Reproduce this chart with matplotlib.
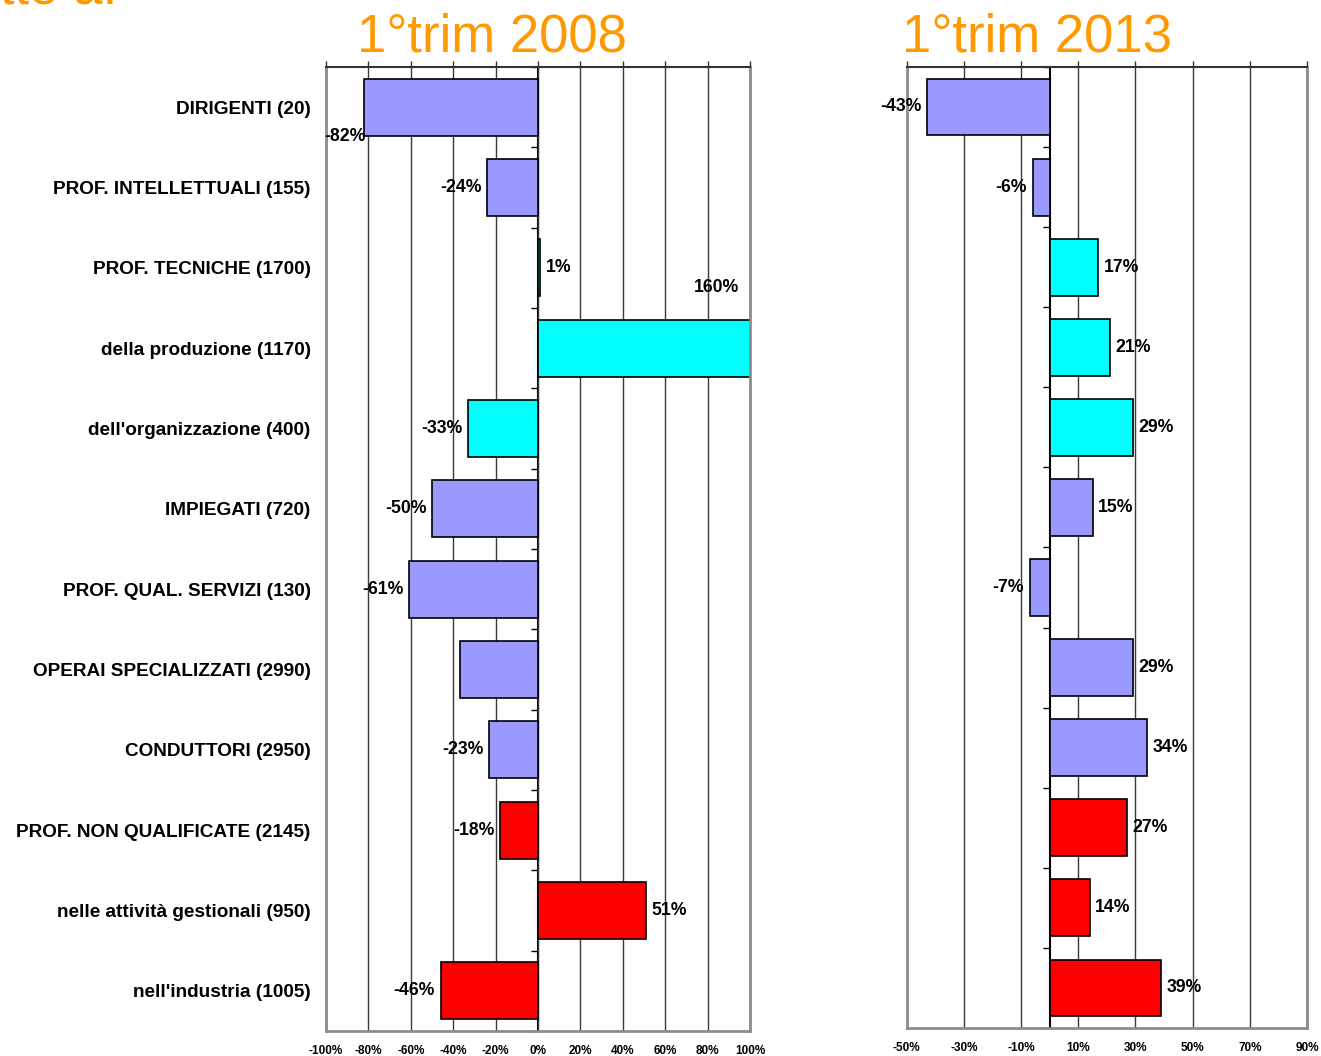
import numpy as np
import matplotlib
matplotlib.use("Agg")
import matplotlib.pyplot as plt

# -------------------- data --------------------
categories = [
    "DIRIGENTI (20)",
    "PROF. INTELLETTUALI (155)",
    "PROF. TECNICHE (1700)",
    "della produzione (1170)",
    "dell'organizzazione (400)",
    "IMPIEGATI (720)",
    "PROF. QUAL. SERVIZI (130)",
    "OPERAI SPECIALIZZATI (2990)",
    "CONDUTTORI (2950)",
    "PROF. NON QUALIFICATE (2145)",
    "nelle attività gestionali (950)",
    "nell'industria (1005)",
]
var_2008 = [-82, -24, 1, 160, -33, -50, -61, -37, -23, -18, 51, -46]
var_2013 = [-43, -6, 17, 21, 29, 15, -7, 29, 34, 27, 14, 39]
groups = ["base", "base", "tech", "tech", "tech", "base", "base",
          "base", "base", "low", "low", "low"]

ticks_2008 = [-100, -80, -60, -40, -20, 0, 20, 40, 60, 80, 100]
ticks_2013 = [-50, -30, -10, 10, 30, 50, 70, 90]

# -------------------- style --------------------
plt.rcParams["font.family"] = ["Liberation Sans", "DejaVu Sans"]
group_colors = {"base": "#9999FF", "tech": "#00FFFF", "low": "#FF0000"}
colors = [group_colors[g] for g in groups]
ORANGE = "#FF9900"
FRAME = "#8c8c8c"
GRID = "#3a3a3a"

fig = plt.figure(figsize=(13.21, 10.56), dpi=100)
ax1 = fig.add_axes([0.2468, 0.0237, 0.3210, 0.9129])
ax2 = fig.add_axes([0.6864, 0.0265, 0.3030, 0.9101])

y = np.arange(len(categories))


def setup(ax, xlim, xticks):
    ax.set_xlim(*xlim)
    ax.set_ylim(len(categories) - 0.5, -0.5)
    ax.set_xticks(xticks)
    ax.set_xticklabels([f"{t}%" for t in xticks], fontsize=8.5, fontweight="bold")
    ax.tick_params(axis="x", top=True, bottom=False, labeltop=False,
                   labelbottom=True, direction="out", length=4, width=1,
                   color="#333333", pad=6)
    ax.grid(axis="x", color=GRID, linewidth=1)
    ax.set_axisbelow(True)
    for side in ["left", "right", "bottom"]:
        ax.spines[side].set_color(FRAME)
        ax.spines[side].set_linewidth(2)
    ax.spines["top"].set_color("#333333")
    ax.spines["top"].set_linewidth(1.5)
    # category axis on the zero line
    zero = (0 - xlim[0]) / (xlim[1] - xlim[0])
    sec = ax.secondary_yaxis(zero)
    sec.set_alignment("left")
    sec.set_yticks(np.arange(-0.5, len(categories), 1))
    sec.tick_params(axis="y", labelleft=False, labelright=False, length=5,
                    width=1, color="black", direction="out")
    sec.spines["left"].set_color("black")
    sec.spines["left"].set_linewidth(1.5)


setup(ax1, (-100, 100), ticks_2008)
setup(ax2, (-50, 90), ticks_2013)

ax1.set_yticks(y)
ax1.set_yticklabels(categories, fontsize=13.7, fontweight="bold")
ax1.tick_params(axis="y", length=0, pad=11)
ax2.set_yticks([])

bars1 = ax1.barh(y, var_2008, height=0.71, color=colors, edgecolor="black", linewidth=1.2)
bars2 = ax2.barh(y, var_2013, height=0.71, color=colors, edgecolor="black", linewidth=1.2)

# bar labels (some placed by hand as in the original slide)
lab1 = [f"{v}%" for v in var_2008]
for i in (0, 3, 7):
    lab1[i] = ""
ax1.bar_label(bars1, labels=lab1, padding=4, fontsize=12.7, fontweight="bold")
ax1.text(-91, 0.37, f"{var_2008[0]}%", ha="center", va="center",
         fontsize=12.7, fontweight="bold")
ax1.text(84.4, 2.25, f"{var_2008[3]}%", ha="center", va="center",
         fontsize=12.7, fontweight="bold")

ax2.bar_label(bars2, labels=[f"{v}%" for v in var_2013], padding=4,
              fontsize=12.7, fontweight="bold")

# titles
fig.text(492 / 1321, 1 - 52 / 1056, "1°trim 2008", color=ORANGE, fontsize=38,
         ha="center", va="baseline")
fig.text(1037 / 1321, 1 - 52 / 1056, "1°trim 2013", color=ORANGE, fontsize=38,
         ha="center", va="baseline")
fig.text(0.0, 1 - 4 / 1056, "tto a:", color=ORANGE, fontsize=38,
         ha="left", va="baseline")

plt.savefig("out.png", dpi=100)
